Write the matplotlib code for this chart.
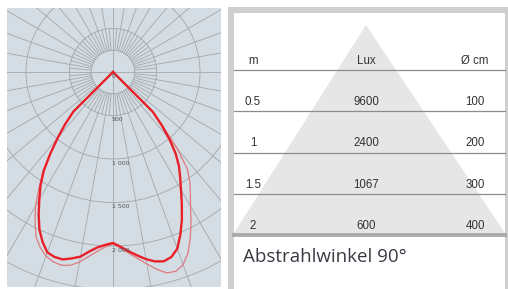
import numpy as np
import matplotlib.pyplot as plt
from matplotlib.patches import Rectangle, Polygon, Circle

# Lichtverteilung in cd/klm, Winkel ab Nadir (Grad)
gamma = [0, 2.5, 5, 7.5, 10, 12.5, 15, 17.5, 20, 22.5, 25, 27.5, 30,
         32.5, 35, 37.5, 40, 42.5, 45, 47.5]
c0 = [1965, 2011, 2069, 2126, 2184, 2230, 2253, 2230, 2161, 2023, 1874, 1713,
      1563, 1437, 1322, 1184, 1011, 828, 644, 0]
c180 = [1965, 1988, 2023, 2080, 2155, 2195, 2230, 2230, 2207, 2115, 2000, 1851,
        1695, 1552, 1391, 1184, 989, 816, 644, 0]
c90 = [1977, 2023, 2092, 2161, 2241, 2322, 2391, 2402, 2356, 2253, 2103, 1942,
       1782, 1655, 1540, 1402, 1149, 851, 644, 0]
c270 = [1977, 2011, 2069, 2138, 2218, 2276, 2299, 2287, 2253, 2184, 2092, 1942,
        1782, 1586, 1402, 1184, 989, 816, 644, 0]

rings = [250, 500, 1000, 1500, 2000, 2500]
ring_labels = {0: "0", 500: "500", 1000: "1 000", 1500: "1 500", 2000: "2 000"}

# Tabelle
head = ["m", "Lux", "Ø cm"]
distance_m = ["0.5", "1", "1.5", "2"]
lux = [9600, 2400, 1067, 600]
diameter_cm = [100, 200, 300, 400]
beam_angle = 90

W, H = 508, 289
fig = plt.figure(figsize=(W / 100, H / 100), dpi=100)
fig.patch.set_facecolor("white")

# ---- Polardiagramm ----
k = 500 / 43.5  # cd pro Pixel
ax = fig.add_axes([7 / W, 2 / H, 214 / W, 279 / H])
ax.set_facecolor("#d4dde4")
ax.set_xlim(-106 * k, 108 * k)
ax.set_ylim(-215 * k, 64 * k)
ax.set_xticks([])
ax.set_yticks([])
for s in ax.spines.values():
    s.set_visible(False)

grid_col = "#a2a8ad"
for r in rings:
    ax.add_patch(Circle((0, 0), r, fill=False, ec=grid_col, lw=0.6))
for a in range(0, 360, 5):
    if a % 90 == 0:
        r0, r1 = 0, 4000
    elif a % 10 == 0:
        r0, r1 = 250, 4000
    else:
        r0, r1 = 250, 500
    t = np.radians(a)
    ax.plot([r0 * np.sin(t), r1 * np.sin(t)], [r0 * np.cos(t), r1 * np.cos(t)],
            color=grid_col, lw=0.6)

for v, lab in ring_labels.items():
    ax.text(-12, -v - 18, lab, fontsize=4.5, ha="left", va="top", color="#555555")


def curve(left, right):
    g = np.radians(gamma)
    l = np.array(left)
    r = np.array(right)
    x = np.concatenate([(-l * np.sin(g))[::-1], (r * np.sin(g))[1:]])
    y = np.concatenate([(-l * np.cos(g))[::-1], (-r * np.cos(g))[1:]])
    return x, y


x, y = curve(c270, c90)
ax.plot(x, y, color="#dc7a7e", lw=0.9, solid_joinstyle="round")
x, y = curve(c180, c0)
ax.plot(x, y, color="#e8202a", lw=1.7, solid_joinstyle="round")

# ---- Tabelle ----
tx = fig.add_axes([0, 0, 1, 1])
tx.set_xlim(0, W)
tx.set_ylim(H, 0)
tx.axis("off")
tx.patch.set_alpha(0)

tx.add_patch(Rectangle((228, 7), W - 228, H - 7, fc="#cfcfcf", ec="none"))
tx.add_patch(Rectangle((234, 13), 271, H - 13, fc="white", ec="none"))
tx.add_patch(Polygon([(366, 25), (234, 233), (505, 233)], closed=True,
                     fc="#e6e6e6", ec="none"))

col_x = [253, 366, 475]
head_line = 70
row_h = 41.25
font = "Liberation Sans"
tx.plot([234, 505], [head_line, head_line], color="#8c8c8c", lw=0.9)
for j, h in enumerate(head):
    tx.text(col_x[j], head_line - 5.5, h, ha="center", va="baseline",
            fontsize=8.3, family=font, color="#333333")
for i in range(len(distance_m)):
    yl = head_line + row_h * (i + 1)
    if i < len(distance_m) - 1:
        tx.plot([234, 505], [yl, yl], color="#8c8c8c", lw=0.9)
    else:
        tx.plot([234, 505], [yl, yl], color="#ababab", lw=2.8)
    row = [distance_m[i], str(lux[i]), str(diameter_cm[i])]
    for j, val in enumerate(row):
        tx.text(col_x[j], yl - 6, val, ha="center", va="baseline",
                fontsize=8.3, family=font, color="#333333")

tx.text(243, 257, f"Abstrahlwinkel {beam_angle}°", ha="left", va="center",
        fontsize=13.5, family="Open Sans", color="#3a3a44")

fig.savefig("out.png", dpi=100, facecolor="white")
